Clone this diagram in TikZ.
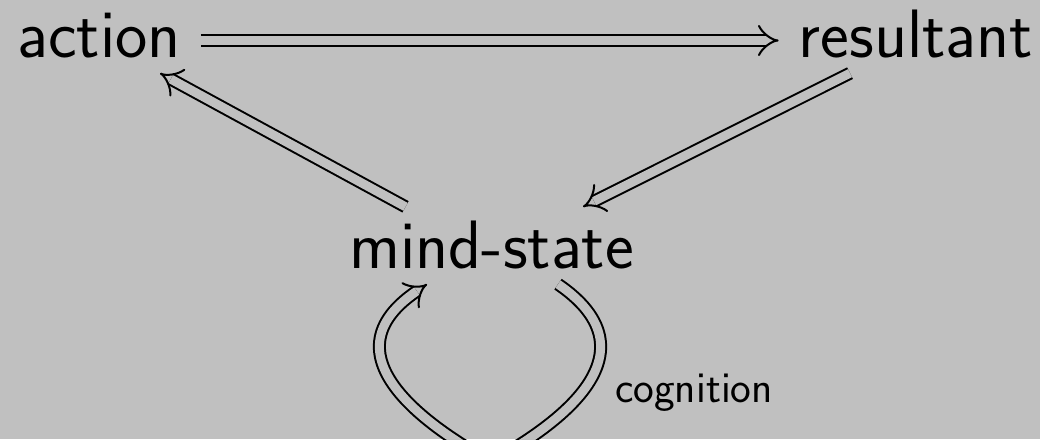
\documentclass[tikz,border=0pt]{standalone}
\usetikzlibrary{arrows.meta}
\definecolor{bg}{RGB}{192,192,192}
\begin{document}
\begin{tikzpicture}[x=1pt,y=-1pt,
  lbl/.style={font=\fontsize{68.5}{74}\selectfont\sffamily, inner xsep=20pt, inner ysep=0pt, text height=49pt, text depth=16pt, anchor=base},
  small/.style={font=\fontsize{44}{50}\selectfont\sffamily, inner sep=0pt, anchor=base},
  dbl/.style={double=bg, double distance=9pt, line width=2pt, line join=miter, -{Implies}}]
\fill[bg] (0,0) rectangle (1040,439);
\useasboundingbox (0,0) rectangle (1040,439);
\clip (0,0) rectangle (1040,439);
\node[lbl] (action) at (99,57) {action};
\node[lbl] (res) at (916,57) {resultant};
\node[lbl] (ms) at (491.5,268) {mind-state};
\node[small] (cog) at (694,402) {cognition};
\draw[dbl] (action) -- (res);
\draw[dbl] ([shift={(-86,-12)}]ms.north) -- ([xshift=61pt]action.south);
\draw[dbl] ([xshift=-66pt]res.south) -- ([shift={(91.5,-12)}]ms.north);
\draw[dbl] ([xshift=66.5pt]ms.south) .. controls (672,362) and (525,442) .. (491,462)
  .. controls (457,442) and (312,362) .. ([xshift=-64.5pt]ms.south);
\end{tikzpicture}
\end{document}
